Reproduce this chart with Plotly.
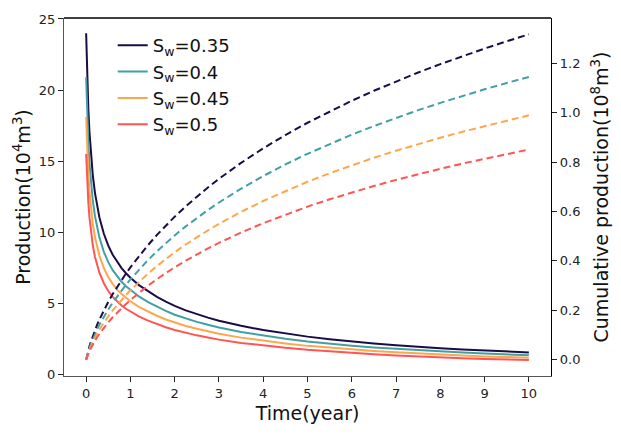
import plotly.graph_objects as go

# Time (year)
t = [0, 0.01, 0.025, 0.05, 0.075, 0.1, 0.15, 0.2, 0.25, 0.3, 0.4, 0.5, 0.6, 0.7, 0.8, 0.9, 1.0,
     1.2, 1.4, 1.6, 1.8, 2.0, 2.25, 2.5, 2.75, 3.0, 3.5, 4, 4.5, 5, 5.5, 6, 6.5, 7, 7.5, 8, 8.5, 9, 9.5, 10]

labels = ["S<sub>w</sub>=0.35", "S<sub>w</sub>=0.4", "S<sub>w</sub>=0.45", "S<sub>w</sub>=0.5"]
colors = ["#1b0c45", "#42a0a5", "#ffa64d", "#ff5553"]

# Production (10^4 m^3)
prod_035 = [24.0, 22.7, 20.87, 18.64, 17.04, 15.8, 14.02, 12.75, 11.79, 11.03, 9.89, 9.05, 8.41, 7.89, 7.47, 7.11, 6.8,
            6.26, 5.83, 5.45, 5.11, 4.81, 4.50, 4.23, 3.99, 3.77, 3.41, 3.11, 2.87, 2.65, 2.47, 2.31, 2.17, 2.05, 1.93, 1.84, 1.75, 1.67, 1.60, 1.535]
prod_040 = [20.9, 19.79, 18.2, 16.25, 14.86, 13.78, 12.23, 11.12, 10.28, 9.62, 8.62, 7.89, 7.33, 6.88, 6.51, 6.2, 5.93,
            5.46, 5.08, 4.75, 4.46, 4.19, 3.92, 3.69, 3.48, 3.29, 2.97, 2.71, 2.50, 2.31, 2.15, 2.01, 1.89, 1.79, 1.68, 1.60, 1.53, 1.46, 1.40, 1.34]
prod_045 = [18.1, 17.16, 15.78, 14.09, 12.88, 11.94, 10.6, 9.64, 8.91, 8.34, 7.48, 6.84, 6.36, 5.96, 5.65, 5.38, 5.14,
            4.73, 4.41, 4.12, 3.86, 3.64, 3.40, 3.20, 3.02, 2.85, 2.58, 2.35, 2.17, 2.0, 1.87, 1.75, 1.64, 1.55, 1.46, 1.39, 1.32, 1.26, 1.21, 1.17]
prod_050 = [15.5, 14.7, 13.52, 12.08, 11.04, 10.24, 9.08, 8.26, 7.64, 7.15, 6.41, 5.86, 5.45, 5.11, 4.84, 4.61, 4.41,
            4.06, 3.78, 3.53, 3.31, 3.12, 2.92, 2.74, 2.59, 2.44, 2.21, 2.02, 1.86, 1.72, 1.6, 1.5, 1.41, 1.33, 1.25, 1.19, 1.13, 1.08, 1.04, 1.0]

# Cumulative production (10^8 m^3)
cum_035 = [0, 0.0084, 0.0202, 0.0380, 0.0540, 0.0688, 0.0957, 0.1197, 0.1418, 0.1624, 0.2001, 0.2342, 0.2656, 0.2950, 0.3226, 0.3489, 0.3739,
           0.4210, 0.4645, 0.5051, 0.5432, 0.5789, 0.6208, 0.6601, 0.6971, 0.7321, 0.7967, 0.8554, 0.9093, 0.9590, 1.0050, 1.0481, 1.0884, 1.1264, 1.1623, 1.1962, 1.2285, 1.2593, 1.2888, 1.3170]
cum_040 = [0, 0.0073, 0.0176, 0.0330, 0.0469, 0.0598, 0.0832, 0.1040, 0.1232, 0.1411, 0.1739, 0.2035, 0.2308, 0.2564, 0.2803, 0.3032, 0.3249,
           0.3658, 0.4037, 0.4389, 0.4720, 0.5031, 0.5395, 0.5736, 0.6058, 0.6362, 0.6923, 0.7433, 0.7902, 0.8334, 0.8733, 0.9108, 0.9458, 0.9788, 1.0100, 1.0395, 1.0676, 1.0943, 1.1200, 1.1445]
cum_045 = [0, 0.0063, 0.0152, 0.0285, 0.0406, 0.0517, 0.0719, 0.0899, 0.1065, 0.1220, 0.1503, 0.1759, 0.1995, 0.2215, 0.2423, 0.2620, 0.2808,
           0.3162, 0.3488, 0.3793, 0.4079, 0.4348, 0.4662, 0.4957, 0.5235, 0.5498, 0.5983, 0.6424, 0.6829, 0.7202, 0.7548, 0.7871, 0.8174, 0.8459, 0.8729, 0.8983, 0.9226, 0.9457, 0.9679, 0.9891]
cum_050 = [0, 0.0054, 0.0130, 0.0245, 0.0349, 0.0444, 0.0618, 0.0773, 0.0916, 0.1049, 0.1293, 0.1513, 0.1716, 0.1906, 0.2084, 0.2254, 0.2415,
           0.2720, 0.3001, 0.3263, 0.3509, 0.3740, 0.4010, 0.4264, 0.4503, 0.4729, 0.5147, 0.5526, 0.5874, 0.6195, 0.6492, 0.6771, 0.7031, 0.7277, 0.7508, 0.7727, 0.7936, 0.8135, 0.8326, 0.8508]

x_ticks = list(range(0, 11))
y_ticks = [0, 5, 10, 15, 20, 25]
y2_ticks = [0.0, 0.2, 0.4, 0.6, 0.8, 1.0, 1.2]

prods = [prod_035, prod_040, prod_045, prod_050]
cums = [cum_035, cum_040, cum_045, cum_050]

FONT = "DejaVu Sans"
fig = go.Figure()

for lab, col, c in zip(labels, colors, cums):
    fig.add_trace(go.Scatter(x=t, y=c, mode="lines", yaxis="y2", showlegend=False,
                             line=dict(color=col, width=2, dash="7px,4px"),
                             hoverinfo="skip"))
for lab, col, p in zip(labels, colors, prods):
    fig.add_trace(go.Scatter(x=t, y=p, mode="lines", name=lab,
                             line=dict(color=col, width=2)))

axis_common = dict(showgrid=False, zeroline=False, ticks="outside", ticklen=5, tickwidth=1,
                   tickcolor="#222", tickfont=dict(family=FONT, size=13, color="#222"))

fig.update_layout(
    width=621, height=436,
    margin=dict(l=64, r=69, t=14, b=60),
    plot_bgcolor="white", paper_bgcolor="white",
    font=dict(family=FONT, color="#111"),
    xaxis=dict(range=[-0.5, 10.5], tickvals=x_ticks, showline=True, linecolor="#555", linewidth=1.3,
               title=dict(text="Time(year)", font=dict(family=FONT, size=19), standoff=6), **axis_common),
    yaxis=dict(range=[-0.12, 25.07], tickvals=y_ticks, showline=True, linecolor="#555", linewidth=1.3,
               title=dict(text="Production(10<sup>4</sup>m<sup>3</sup>)", font=dict(family=FONT, size=19), standoff=3),
               **axis_common),
    yaxis2=dict(range=[-0.066, 1.383], tickvals=y2_ticks, tickformat=".1f", overlaying="y", side="right",
                showline=True, linecolor="black", linewidth=1.3,
                title=dict(text="Cumulative production(10<sup>8</sup>m<sup>3</sup>)", font=dict(family=FONT, size=19), standoff=15),
                **axis_common),
    legend=dict(x=0.1, y=0.975, xanchor="left", yanchor="top", bgcolor="rgba(0,0,0,0)",
                font=dict(family=FONT, size=18, color="#111"), tracegroupgap=0),
    shapes=[dict(type="line", xref="paper", yref="paper", x0=0, x1=1, y0=1, y1=1,
                 line=dict(color="black", width=1.3))],
)

fig.write_html("out.html")
